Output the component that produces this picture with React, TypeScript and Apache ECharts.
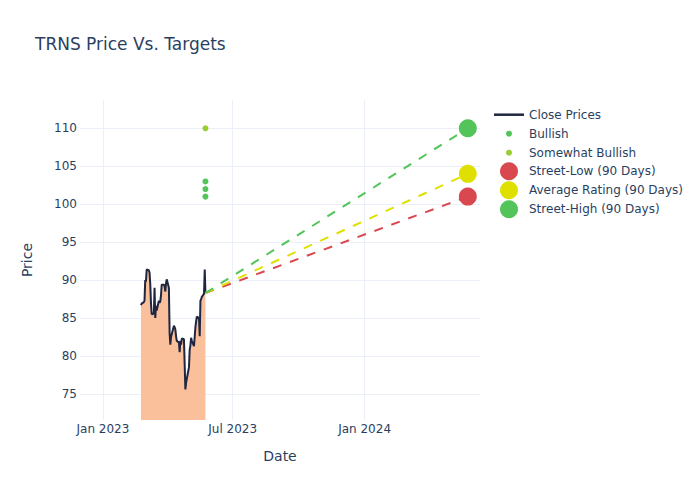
import React, { useEffect, useRef } from "react";
import * as echarts from "echarts";

const startDate = "2023-02-23";
const endDate = "2023-05-24";
const holidays = ["2023-04-07"];
const closePrices = [
  86.7, 86.9, 87.1, 87.3, 90.0, 89.8, 91.4, 91.3, 91.0, 89.5,
  87.0, 85.5, 85.6, 89.0, 85.0, 86.6, 86.0, 87.3, 87.0, 87.2,
  88.0, 89.4, 89.4, 89.2, 88.5, 89.6, 90.1, 89.0, 83.0, 81.5,
  82.5, 84.0, 83.8, 83.5, 82.6, 82.0, 81.8, 80.5, 82.0, 81.5,
  82.3, 82.2, 79.0, 75.6, 76.5, 77.0, 78.5, 80.8, 81.4, 82.4,
  82.0, 81.3, 82.5, 83.8, 84.6, 85.2, 85.0, 82.6, 87.3, 87.5,
  87.8, 88.2, 91.4, 88.3,
];
const ratingDate = "2023-05-24";
const bullishTargets = [101, 102, 103];
const somewhatBullishTargets = [110];
const targetDate = "2024-05-24";
const streetLow = 101;
const averageRating = 104;
const streetHigh = 110;
const xTickDates = ["2023-01-01", "2023-07-01", "2024-01-01"];
const yTicks = [75, 80, 85, 90, 95, 100, 105, 110];
const xMin = "2022-11-30";
const xMax = "2024-06-10";
const yMin = 71.57;
const yMax = 113.73;

const MONTHS = ["Jan", "Feb", "Mar", "Apr", "May", "Jun", "Jul", "Aug", "Sep", "Oct", "Nov", "Dec"];

function ts(d: string): number {
  const [y, m, day] = d.split("-").map(Number);
  return Date.UTC(y, m - 1, day);
}

function tradingDays(start: string, end: string, skip: string[]): number[] {
  const out: number[] = [];
  const skipSet = new Set(skip.map(ts));
  for (let t = ts(start); t <= ts(end); t += 86400000) {
    const wd = new Date(t).getUTCDay();
    if (wd !== 0 && wd !== 6 && !skipSet.has(t)) out.push(t);
  }
  return out;
}

const TXT = "#2a3f5f";
const FONT = "DejaVu Sans";

export default function App() {
  const ref = useRef<HTMLDivElement>(null);
  useEffect(() => {
    if (!ref.current) return;
    const chart = echarts.init(ref.current, null, { renderer: "svg" });
    const dates = tradingDays(startDate, endDate, holidays);
    const priceData = closePrices.map((v, i) => [dates[i], v]);
    const lastPoint = priceData[priceData.length - 1];
    const trend = (v: number) => [lastPoint, [ts(targetDate), v]];

    const legendBase = {
      orient: "vertical" as const,
      itemWidth: 30,
      itemGap: 1,
      padding: 0,
      selectedMode: false,
      textStyle: { color: TXT, fontSize: 12, fontFamily: FONT, lineHeight: 18 },
    };

    chart.setOption({
      animation: false,
      backgroundColor: "#ffffff",
      title: {
        text: "TRNS Price Vs. Targets",
        left: 35,
        top: 35.5,
        padding: 0,
        textStyle: { color: TXT, fontSize: 17, fontWeight: "normal", fontFamily: FONT },
      },
      legend: [
        { ...legendBase, left: 494, top: 105.7, itemHeight: 2.5, data: [{ name: "Close Prices", icon: "rect" }] },
        {
          ...legendBase,
          left: 506,
          top: 124.7,
          itemHeight: 6,
          data: [
            { name: "Bullish", icon: "circle" },
            { name: "Somewhat Bullish", icon: "circle" },
          ],
        },
        {
          ...legendBase,
          left: 500,
          top: 162.3,
          itemHeight: 18,
          data: [
            { name: "Street-Low (90 Days)", icon: "circle" },
            { name: "Average Rating (90 Days)", icon: "circle" },
            { name: "Street-High (90 Days)", icon: "circle" },
          ],
        },
      ],
      grid: { left: 80, top: 100, width: 400, height: 320 },
      xAxis: {
        type: "value",
        min: ts(xMin),
        max: ts(xMax),
        name: "Date",
        nameLocation: "middle",
        nameGap: 29,
        nameTextStyle: { color: TXT, fontSize: 14, fontFamily: FONT },
        axisLine: { show: false },
        axisTick: { show: false, customValues: xTickDates.map(ts) },
        axisLabel: {
          customValues: xTickDates.map(ts),
          margin: 3,
          color: TXT,
          fontSize: 12,
          fontFamily: FONT,
          formatter: (v: number) => {
            const d = new Date(v);
            return MONTHS[d.getUTCMonth()] + " " + d.getUTCFullYear();
          },
        },
        splitLine: { show: true, lineStyle: { color: "#ebf0f8", width: 1 } },
      },
      yAxis: {
        type: "value",
        min: yMin,
        max: yMax,
        name: "Price",
        nameLocation: "middle",
        nameGap: 46,
        nameTextStyle: { color: TXT, fontSize: 14, fontFamily: FONT },
        axisLine: { show: false },
        axisTick: { show: false, customValues: yTicks },
        axisLabel: { customValues: yTicks, margin: 3, color: TXT, fontSize: 12, fontFamily: FONT },
        splitLine: { show: true, lineStyle: { color: "#ebf0f8", width: 1 } },
      },
      series: [
        {
          name: "Close Prices",
          type: "line",
          data: priceData,
          showSymbol: false,
          symbol: "none",
          lineStyle: { color: "#1f2640", width: 2 },
          itemStyle: { color: "#1f2640" },
          areaStyle: { color: "#fac09c", opacity: 1 },
          z: 2,
        },
        {
          name: "Low trend",
          type: "line",
          data: trend(streetLow),
          symbol: "none",
          lineStyle: { color: "#d9484f", width: 2, type: [9, 9] },
          z: 3,
        },
        {
          name: "Average trend",
          type: "line",
          data: trend(averageRating),
          symbol: "none",
          lineStyle: { color: "#e0e000", width: 2, type: [9, 9] },
          z: 3,
        },
        {
          name: "High trend",
          type: "line",
          data: trend(streetHigh),
          symbol: "none",
          lineStyle: { color: "#52c45a", width: 2, type: [9, 9] },
          z: 3,
        },
        {
          name: "Bullish",
          type: "scatter",
          data: bullishTargets.map((v) => [ts(ratingDate), v]),
          symbolSize: 6,
          itemStyle: { color: "#52c45a", opacity: 1 },
          z: 4,
        },
        {
          name: "Somewhat Bullish",
          type: "scatter",
          data: somewhatBullishTargets.map((v) => [ts(ratingDate), v]),
          symbolSize: 6,
          itemStyle: { color: "#9acd32", opacity: 1 },
          z: 4,
        },
        {
          name: "Street-Low (90 Days)",
          type: "scatter",
          data: [[ts(targetDate), streetLow]],
          symbolSize: 18,
          itemStyle: { color: "#d9484f", opacity: 1 },
          z: 5,
        },
        {
          name: "Average Rating (90 Days)",
          type: "scatter",
          data: [[ts(targetDate), averageRating]],
          symbolSize: 18,
          itemStyle: { color: "#e0e000", opacity: 1 },
          z: 5,
        },
        {
          name: "Street-High (90 Days)",
          type: "scatter",
          data: [[ts(targetDate), streetHigh]],
          symbolSize: 18,
          itemStyle: { color: "#52c45a", opacity: 1 },
          z: 5,
        },
      ],
    });
    return () => chart.dispose();
  }, []);
  return <div ref={ref} style={{ position: "absolute", left: 0, top: 0, width: 700, height: 500 }} />;
}
